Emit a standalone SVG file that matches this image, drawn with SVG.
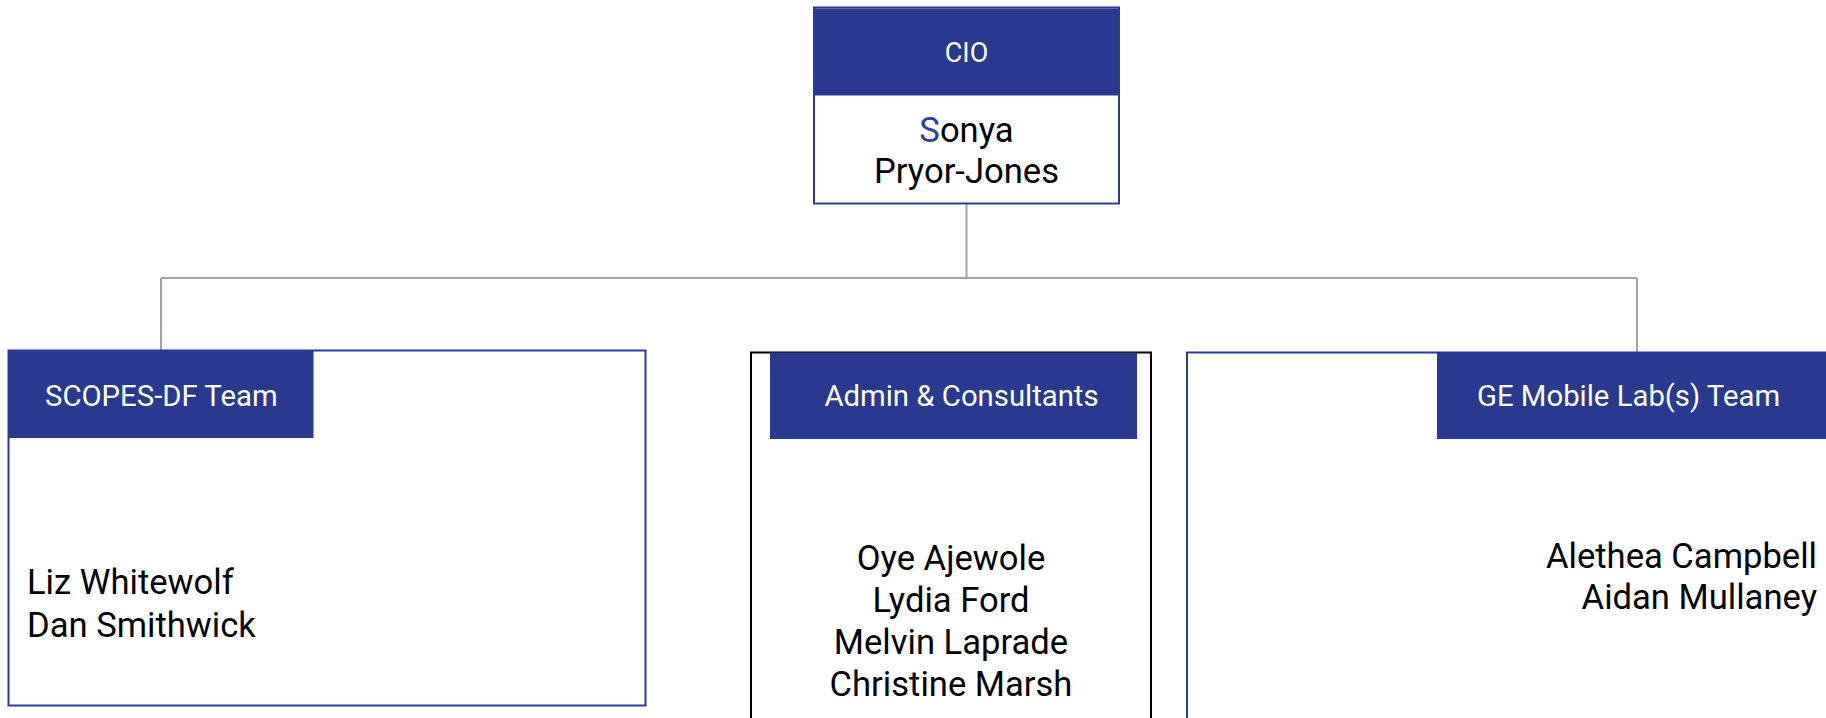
<svg xmlns="http://www.w3.org/2000/svg" width="1826" height="718" viewBox="0 0 1826 718">
<style>
.bg{fill:#ffffff}
.box{fill:#ffffff;stroke:#2b3a94;stroke-width:2}
.boxk{fill:#ffffff;stroke:#000000;stroke-width:2}
.hdr{fill:#2a3990}
.ht{font-family:Roboto,"Liberation Sans",sans-serif;font-size:29.3px;fill:#ffffff}
.nm{font-family:Roboto,"Liberation Sans",sans-serif;font-size:34.6px;fill:#000000}
.conn{fill:none;stroke:#a3a3a3;stroke-width:2}
</style>
<rect class="bg" x="0" y="0" width="1826" height="718"/>
<g id="connectors">
<path class="conn" d="M966.5 203 V278"/>
<path class="conn" d="M161 278 H1637"/>
<path class="conn" d="M161 278 V350"/>
<path class="conn" d="M1637 278 V352"/>
</g>
<g id="cio">
<rect class="box" x="814" y="7.5" width="305" height="196"/>
<rect class="hdr" x="815" y="8.5" width="303" height="87"/>
<text class="ht" x="966.5" y="62" text-anchor="middle" style="font-size:27px">CIO</text>
<text class="nm" x="966.5" y="142" text-anchor="middle"><tspan fill="#2e3f9c">S</tspan>onya</text>
<text class="nm" x="966.5" y="183" text-anchor="middle">Pryor-Jones</text>
</g>
<g id="scopes">
<rect class="box" x="8.5" y="350.5" width="637" height="355"/>
<rect class="hdr" x="8.5" y="350.5" width="305" height="87.5"/>
<text class="ht" x="45" y="406">SCOPES-DF Team</text>
<text class="nm" x="27" y="594">Liz Whitewolf</text>
<text class="nm" x="27" y="637">Dan Smithwick</text>
</g>
<g id="admin">
<rect class="boxk" x="751" y="352.5" width="400" height="380"/>
<rect class="hdr" x="770" y="352.5" width="367" height="86.5"/>
<text class="ht" x="961.5" y="406" text-anchor="middle">Admin &amp; Consultants</text>
<text class="nm" x="951" y="570" text-anchor="middle">Oye Ajewole</text>
<text class="nm" x="951" y="612" text-anchor="middle">Lydia Ford</text>
<text class="nm" x="951" y="654" text-anchor="middle">Melvin Laprade</text>
<text class="nm" x="951" y="696" text-anchor="middle">Christine Marsh</text>
</g>
<g id="ge">
<rect class="box" x="1187" y="352.5" width="660" height="380"/>
<rect class="hdr" x="1437" y="352.5" width="400" height="86.5"/>
<text class="ht" x="1477" y="406">GE Mobile Lab(s) Team</text>
<text class="nm" x="1817" y="568" text-anchor="end">Alethea Campbell</text>
<text class="nm" x="1817" y="609" text-anchor="end">Aidan Mullaney</text>
</g>
</svg>
